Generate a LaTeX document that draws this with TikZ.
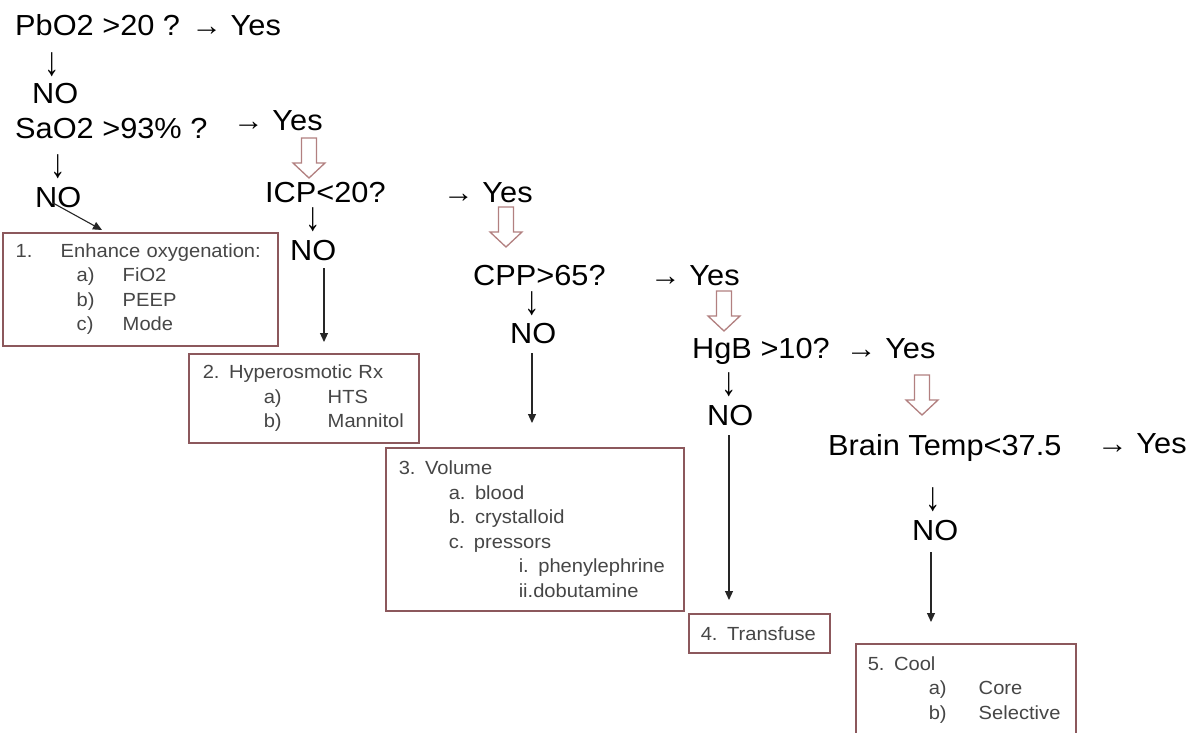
\documentclass[tikz,border=0pt]{standalone}
\usepackage{fontspec}
\usepackage{graphicx}
\setmainfont[FakeStretch=1.06]{Liberation Sans}
\usetikzlibrary{arrows.meta,calc}
\definecolor{boxred}{RGB}{140,88,92}
\definecolor{hollow}{RGB}{178,128,128}
\definecolor{boxtext}{RGB}{70,70,70}
\newcommand{\tallarrow}{\scalebox{1}[1.4]{↓}}
\tikzset{
  mainlbl/.style={font=\fontsize{29}{34}\selectfont, inner sep=0pt, anchor=base west},
  downglyph/.style={font=\fontsize{29}{34}\selectfont, inner sep=0pt, anchor=center},
  stepbox/.style={draw=boxred, line width=1.5pt, rectangle, anchor=north west, inner ysep=0pt,
     align=left, text=boxtext, font=\fontsize{19}{24.5}\selectfont},
  conn/.style={draw=black!85, line width=1.1pt, -{Triangle[length=9pt,width=8pt]}},
  hollowdown/.pic={\draw[draw=hollow, line width=1.3pt, fill=white, line join=miter]
     (-7.5,0) -- (7.5,0) -- (7.5,25) -- (16,25) -- (0,40) -- (-16,25) -- (-7.5,25) -- cycle;}
}
\begin{document}
\begin{tikzpicture}[x=1pt,y=-1pt]
\useasboundingbox (0,0) rectangle (1192,732);
\clip (0,0) rectangle (1192,732);
\fill[white] (0,0) rectangle (1192,732);

% question chain
\node[mainlbl] (pbo2) at (15,35) {PbO2 >20 ? → Yes};
\node[downglyph] (d1) at (52,65) {\tallarrow};
\node[mainlbl] (no1) at (32,103) {NO};
\node[mainlbl] (sao2) at (15,138) {SaO2 >93\% ?};
\node[mainlbl] (yes2) at (233,130) {→ Yes};
\node[downglyph] (d2) at (58,167) {\tallarrow};
\node[mainlbl] (no2) at (35,207) {NO};

\node[mainlbl] (icp) at (265,202) {ICP<20?};
\node[downglyph] (d3) at (313,220) {\tallarrow};
\node[mainlbl] (no3) at (290,260) {NO};
\node[mainlbl] (yes3) at (443,202) {→ Yes};

\node[mainlbl] (cpp) at (473,285) {CPP>65?};
\node[downglyph] (d4) at (532,304) {\tallarrow};
\node[mainlbl] (no4) at (510,343) {NO};
\node[mainlbl] (yes4) at (650,285) {→ Yes};

\node[mainlbl] (hgb) at (692,358) {HgB >10? \,→ Yes};
\node[downglyph] (d5) at (729,385) {\tallarrow};
\node[mainlbl] (no5) at (707,425) {NO};

\node[mainlbl] (brain) at (828,455) {Brain Temp<37.5};
\node[mainlbl] (yes6) at (1097,453) {→ Yes};
\node[downglyph] (d6) at (933,500) {\tallarrow};
\node[mainlbl] (no6) at (912,540) {NO};

% hollow block arrows
\pic at (309,138) {hollowdown};
\pic at (506,207) {hollowdown};
\pic at (724,291) {hollowdown};
\pic at (922,375) {hollowdown};

% boxes
\node[stepbox, inner xsep=13pt, text width=249pt, minimum height=113pt] (box1) at (2,232)
 {\makebox[45pt][l]{1.}Enhance oxygenation:\\
  \hspace*{61pt}\makebox[46pt][l]{a)}FiO2\\
  \hspace*{61pt}\makebox[46pt][l]{b)}PEEP\\
  \hspace*{61pt}\makebox[46pt][l]{c)}Mode};
\node[stepbox, inner xsep=14pt, text width=202pt, minimum height=89pt] (box2) at (188,353)
 {2. Hyperosmotic Rx\\
  \hspace*{61pt}\makebox[64pt][l]{a)}HTS\\
  \hspace*{61pt}\makebox[64pt][l]{b)}Mannitol};
\node[stepbox, inner xsep=13pt, text width=272pt, minimum height=163pt] (box3) at (385,447)
 {3. Volume\\
  \hspace*{50pt}a. blood\\
  \hspace*{50pt}b. crystalloid\\
  \hspace*{50pt}c. pressors\\
  \hspace*{120pt}i. phenylephrine\\
  \hspace*{120pt}ii.dobutamine};
\node[stepbox, inner xsep=12pt, text width=117pt, minimum height=39pt] (box4) at (688,613)
 {4. Transfuse};
\node[stepbox, inner xsep=12pt, text width=196pt, minimum height=92pt] (box5) at (855,643)
 {5. Cool\\
  \hspace*{61pt}\makebox[50pt][l]{a)}Core\\
  \hspace*{61pt}\makebox[50pt][l]{b)}Selective};

% connectors
\draw[conn] ([xshift=18pt,yshift=4pt]no2.base west) -- ([xshift=100pt,yshift=2pt]box1.north west);
\draw[conn] ([xshift=34pt,yshift=-8pt]no3.base west) -- ([xshift=136pt,yshift=11pt]box2.north west);
\draw[conn] ([xshift=22pt,yshift=-10pt]no4.base west) -- ([xshift=147pt,yshift=24pt]box3.north west);
\draw[conn] ([xshift=22pt,yshift=-10pt]no5.base west) -- ([xshift=41pt,yshift=13pt]box4.north west);
\draw[conn] ([xshift=19pt,yshift=-12pt]no6.base west) -- ([xshift=76pt,yshift=21pt]box5.north west);
\end{tikzpicture}
\end{document}
